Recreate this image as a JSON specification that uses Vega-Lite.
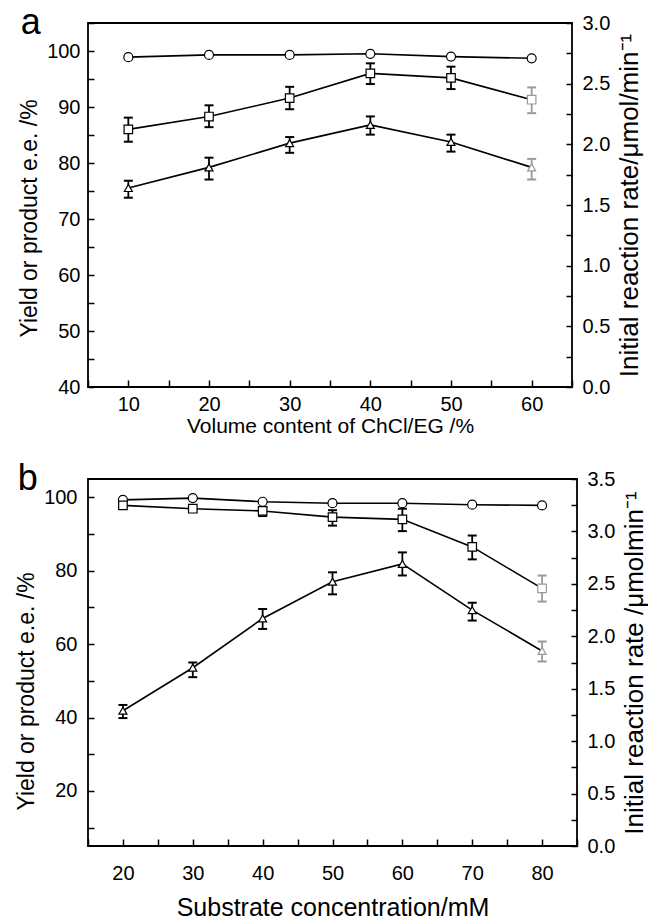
{
  "$schema": "https://vega.github.io/schema/vega-lite/v6.json",
  "padding": {"left": 14, "top": 4, "right": 3, "bottom": 0},
  "spacing": 23,
  "config": {
    "font": "Liberation Sans",
    "view": {"stroke": "black", "strokeWidth": 1.8},
    "axis": {"labelFont": "Liberation Sans", "titleFont": "Liberation Sans", "labelColor": "black", "titleColor": "black", "domain": false, "tickColor": "black", "tickWidth": 1.5, "titleFontWeight": "normal", "grid": false, "labelFontSize": 20},
    "title": {"font": "Liberation Sans", "fontWeight": "normal", "color": "black"}
  },
  "datasets": {
    "a_left": [
      {"x": 10, "s": "ee", "v": 98.9, "lo": null, "hi": null},
      {"x": 20, "s": "ee", "v": 99.3, "lo": null, "hi": null},
      {"x": 30, "s": "ee", "v": 99.3, "lo": null, "hi": null},
      {"x": 40, "s": "ee", "v": 99.5, "lo": null, "hi": null},
      {"x": 50, "s": "ee", "v": 99.0, "lo": null, "hi": null},
      {"x": 60, "s": "ee", "v": 98.7, "lo": null, "hi": null},
      {"x": 10, "s": "yield", "v": 86.0, "lo": 83.8, "hi": 88.1},
      {"x": 20, "s": "yield", "v": 88.3, "lo": 86.4, "hi": 90.3},
      {"x": 30, "s": "yield", "v": 91.6, "lo": 89.6, "hi": 93.6},
      {"x": 40, "s": "yield", "v": 96.0, "lo": 94.1, "hi": 97.8},
      {"x": 50, "s": "yield", "v": 95.2, "lo": 93.2, "hi": 97.2},
      {"x": 60, "s": "yield", "v": 91.3, "lo": 88.9, "hi": 93.5}
    ],
    "a_right": [
      {"x": 10, "s": "rate", "v": 1.64, "lo": 1.56, "hi": 1.70},
      {"x": 20, "s": "rate", "v": 1.81, "lo": 1.71, "hi": 1.89},
      {"x": 30, "s": "rate", "v": 2.01, "lo": 1.93, "hi": 2.06},
      {"x": 40, "s": "rate", "v": 2.16, "lo": 2.08, "hi": 2.23},
      {"x": 50, "s": "rate", "v": 2.02, "lo": 1.94, "hi": 2.08},
      {"x": 60, "s": "rate", "v": 1.81, "lo": 1.71, "hi": 1.88}
    ],
    "b_left": [
      {"x": 20, "s": "ee", "v": 99.3, "lo": null, "hi": null},
      {"x": 30, "s": "ee", "v": 99.8, "lo": null, "hi": null},
      {"x": 40, "s": "ee", "v": 98.8, "lo": null, "hi": null},
      {"x": 50, "s": "ee", "v": 98.4, "lo": null, "hi": null},
      {"x": 60, "s": "ee", "v": 98.4, "lo": null, "hi": null},
      {"x": 70, "s": "ee", "v": 98.0, "lo": null, "hi": null},
      {"x": 80, "s": "ee", "v": 97.8, "lo": null, "hi": null},
      {"x": 20, "s": "yield", "v": 97.8, "lo": 97.3, "hi": 98.3},
      {"x": 30, "s": "yield", "v": 96.9, "lo": 96.1, "hi": 97.7},
      {"x": 40, "s": "yield", "v": 96.3, "lo": 94.9, "hi": 97.3},
      {"x": 50, "s": "yield", "v": 94.6, "lo": 92.3, "hi": 96.5},
      {"x": 60, "s": "yield", "v": 94.0, "lo": 90.8, "hi": 96.9},
      {"x": 70, "s": "yield", "v": 86.5, "lo": 83.1, "hi": 89.6},
      {"x": 80, "s": "yield", "v": 75.2, "lo": 71.6, "hi": 78.7}
    ],
    "b_right": [
      {"x": 20, "s": "rate", "v": 1.29, "lo": 1.22, "hi": 1.345},
      {"x": 30, "s": "rate", "v": 1.70, "lo": 1.61, "hi": 1.75},
      {"x": 40, "s": "rate", "v": 2.17, "lo": 2.07, "hi": 2.26},
      {"x": 50, "s": "rate", "v": 2.52, "lo": 2.40, "hi": 2.61},
      {"x": 60, "s": "rate", "v": 2.69, "lo": 2.58, "hi": 2.80},
      {"x": 70, "s": "rate", "v": 2.25, "lo": 2.15, "hi": 2.32},
      {"x": 80, "s": "rate", "v": 1.86, "lo": 1.76, "hi": 1.95}
    ]
  },
  "vconcat": [
    {
      "width": 484,
      "height": 364,
      "title": {"text": "a", "anchor": "start", "frame": "bounds", "fontSize": 36, "offset": -57, "baseline": "alphabetic", "dx": 2},
      "encoding": {
        "x": {"field": "x", "type": "quantitative", "scale": {"domain": [5, 65], "nice": false, "zero": false},
          "axis": {"values": [5, 10, 15, 20, 25, 30, 35, 40, 45, 50, 55, 60, 65], "labelExpr": "datum.value % 10 === 0 ? datum.label : ''",
            "tickSize": -7, "labelPadding": 14, "title": "Volume content of ChCl/EG /%", "titleFontSize": 21, "titlePadding": 1}}
      },
      "layer": [
        {"data": {"name": "a_left"}, "transform": [{"filter": "datum.lo != null"}], "mark": {"type": "rule", "strokeWidth": 1.8},
          "encoding": {"y": {"field": "lo", "type": "quantitative", "scale": {"domain": [40, 105], "nice": false, "zero": false}, "axis": null}, "y2": {"field": "hi"},
            "color": {"condition": {"test": "datum.x === 60", "value": "#9a9a9a"}, "value": "black"}}},
        {"data": {"name": "a_left"}, "transform": [{"filter": "datum.lo != null"}], "mark": {"type": "tick", "orient": "horizontal", "size": 9, "thickness": 2, "opacity": 1},
          "encoding": {"y": {"field": "lo", "type": "quantitative", "scale": {"domain": [40, 105], "nice": false, "zero": false}, "axis": null},
            "color": {"condition": {"test": "datum.x === 60", "value": "#9a9a9a"}, "value": "black"}}},
        {"data": {"name": "a_left"}, "transform": [{"filter": "datum.lo != null"}], "mark": {"type": "tick", "orient": "horizontal", "size": 9, "thickness": 2, "opacity": 1},
          "encoding": {"y": {"field": "hi", "type": "quantitative", "scale": {"domain": [40, 105], "nice": false, "zero": false}, "axis": null},
            "color": {"condition": {"test": "datum.x === 60", "value": "#9a9a9a"}, "value": "black"}}},
        {"data": {"name": "a_left"}, "mark": {"type": "line", "color": "black", "strokeWidth": 1.6},
          "encoding": {"detail": {"field": "s"},
            "y": {"field": "v", "type": "quantitative", "scale": {"domain": [40, 105], "nice": false, "zero": false},
              "axis": {"orient": "left", "values": [40, 45, 50, 55, 60, 65, 70, 75, 80, 85, 90, 95, 100, 105], "labelExpr": "datum.value % 10 === 0 ? datum.label : ''",
                "tickSize": -6, "labelPadding": 14, "title": "Yield or product e.e. /%", "titleFontSize": 23, "titlePadding": 5, "titleY": 195}}}},
        {"data": {"name": "a_left"}, "mark": {"type": "point", "fill": "white", "filled": false, "strokeWidth": 1.2, "opacity": 1},
          "encoding": {"y": {"field": "v", "type": "quantitative", "scale": {"domain": [40, 105], "nice": false, "zero": false}, "axis": null},
            "shape": {"field": "s", "type": "nominal", "scale": {"domain": ["ee", "yield", "rate"], "range": ["circle", "square", "triangle-up"]}, "legend": null},
            "size": {"field": "s", "type": "nominal", "scale": {"domain": ["ee", "yield", "rate"], "range": [81, 64, 130]}, "legend": null},
            "stroke": {"condition": {"test": "datum.x === 60 && datum.s === 'yield'", "value": "#9a9a9a"}, "value": "black"}}},
        {"data": {"name": "a_right"}, "mark": {"type": "rule", "strokeWidth": 1.8},
          "encoding": {"y": {"field": "lo", "type": "quantitative", "scale": {"domain": [0, 3], "nice": false, "zero": false}, "axis": null}, "y2": {"field": "hi"},
            "color": {"condition": {"test": "datum.x === 60", "value": "#9a9a9a"}, "value": "black"}}},
        {"data": {"name": "a_right"}, "mark": {"type": "tick", "orient": "horizontal", "size": 9, "thickness": 2, "opacity": 1},
          "encoding": {"y": {"field": "lo", "type": "quantitative", "scale": {"domain": [0, 3], "nice": false, "zero": false}, "axis": null},
            "color": {"condition": {"test": "datum.x === 60", "value": "#9a9a9a"}, "value": "black"}}},
        {"data": {"name": "a_right"}, "mark": {"type": "tick", "orient": "horizontal", "size": 9, "thickness": 2, "opacity": 1},
          "encoding": {"y": {"field": "hi", "type": "quantitative", "scale": {"domain": [0, 3], "nice": false, "zero": false}, "axis": null},
            "color": {"condition": {"test": "datum.x === 60", "value": "#9a9a9a"}, "value": "black"}}},
        {"data": {"name": "a_right"}, "mark": {"type": "line", "color": "black", "strokeWidth": 1.6},
          "encoding": {
            "y": {"field": "v", "type": "quantitative", "scale": {"domain": [0, 3], "nice": false, "zero": false},
              "axis": {"orient": "right", "values": [0, 0.25, 0.5, 0.75, 1, 1.25, 1.5, 1.75, 2, 2.25, 2.5, 2.75, 3], "format": ".1f", "labelExpr": "(datum.value * 4) % 2 === 0 ? datum.label : ''",
                "tickSize": -6, "labelPadding": 16, "title": "Initial reaction rate/μmol/min⁻¹", "titleFontSize": 26, "titleAngle": 270, "titleBaseline": "top", "titlePadding": 7}}}},
        {"data": {"name": "a_right"}, "mark": {"type": "point", "fill": "white", "filled": false, "strokeWidth": 1.2, "opacity": 1},
          "encoding": {"y": {"field": "v", "type": "quantitative", "scale": {"domain": [0, 3], "nice": false, "zero": false}, "axis": null},
            "shape": {"field": "s", "type": "nominal", "scale": {"domain": ["ee", "yield", "rate"], "range": ["circle", "square", "triangle-up"]}, "legend": null},
            "size": {"field": "s", "type": "nominal", "scale": {"domain": ["ee", "yield", "rate"], "range": [81, 64, 130]}, "legend": null},
            "stroke": {"condition": {"test": "datum.x === 60", "value": "#9a9a9a"}, "value": "black"}}}
      ],
      "resolve": {"scale": {"y": "independent"}, "axis": {"y": "independent"}}
    },
    {
      "width": 489,
      "height": 367,
      "title": {"text": "b", "anchor": "start", "frame": "bounds", "fontSize": 36, "offset": -57, "baseline": "alphabetic", "dx": 2},
      "encoding": {
        "x": {"field": "x", "type": "quantitative", "scale": {"domain": [15, 85], "nice": false, "zero": false},
          "axis": {"values": [15, 20, 25, 30, 35, 40, 45, 50, 55, 60, 65, 70, 75, 80, 85], "labelExpr": "datum.value % 10 === 0 ? datum.label : ''",
            "tickSize": -7, "labelPadding": 24, "title": "Substrate concentration/mM", "titleFontSize": 25, "titlePadding": 12}}
      },
      "layer": [
        {"data": {"name": "b_left"}, "transform": [{"filter": "datum.lo != null"}], "mark": {"type": "rule", "strokeWidth": 1.8},
          "encoding": {"y": {"field": "lo", "type": "quantitative", "scale": {"domain": [5, 105], "nice": false, "zero": false}, "axis": null}, "y2": {"field": "hi"},
            "color": {"condition": {"test": "datum.x === 80", "value": "#9a9a9a"}, "value": "black"}}},
        {"data": {"name": "b_left"}, "transform": [{"filter": "datum.lo != null"}], "mark": {"type": "tick", "orient": "horizontal", "size": 9, "thickness": 2, "opacity": 1},
          "encoding": {"y": {"field": "lo", "type": "quantitative", "scale": {"domain": [5, 105], "nice": false, "zero": false}, "axis": null},
            "color": {"condition": {"test": "datum.x === 80", "value": "#9a9a9a"}, "value": "black"}}},
        {"data": {"name": "b_left"}, "transform": [{"filter": "datum.lo != null"}], "mark": {"type": "tick", "orient": "horizontal", "size": 9, "thickness": 2, "opacity": 1},
          "encoding": {"y": {"field": "hi", "type": "quantitative", "scale": {"domain": [5, 105], "nice": false, "zero": false}, "axis": null},
            "color": {"condition": {"test": "datum.x === 80", "value": "#9a9a9a"}, "value": "black"}}},
        {"data": {"name": "b_left"}, "mark": {"type": "line", "color": "black", "strokeWidth": 1.6},
          "encoding": {"detail": {"field": "s"},
            "y": {"field": "v", "type": "quantitative", "scale": {"domain": [5, 105], "nice": false, "zero": false},
              "axis": {"orient": "left", "values": [10, 20, 30, 40, 50, 60, 70, 80, 90, 100], "labelExpr": "datum.value % 20 === 0 ? datum.label : ''",
                "tickSize": -6, "labelPadding": 17, "title": "Yield or product e.e. /%", "titleFontSize": 23, "titlePadding": 5, "titleY": 212}}}},
        {"data": {"name": "b_left"}, "mark": {"type": "point", "fill": "white", "filled": false, "strokeWidth": 1.2, "opacity": 1},
          "encoding": {"y": {"field": "v", "type": "quantitative", "scale": {"domain": [5, 105], "nice": false, "zero": false}, "axis": null},
            "shape": {"field": "s", "type": "nominal", "scale": {"domain": ["ee", "yield", "rate"], "range": ["circle", "square", "triangle-up"]}, "legend": null},
            "size": {"field": "s", "type": "nominal", "scale": {"domain": ["ee", "yield", "rate"], "range": [81, 64, 130]}, "legend": null},
            "stroke": {"condition": {"test": "datum.x === 80 && datum.s === 'yield'", "value": "#9a9a9a"}, "value": "black"}}},
        {"data": {"name": "b_right"}, "mark": {"type": "rule", "strokeWidth": 1.8},
          "encoding": {"y": {"field": "lo", "type": "quantitative", "scale": {"domain": [0, 3.5], "nice": false, "zero": false}, "axis": null}, "y2": {"field": "hi"},
            "color": {"condition": {"test": "datum.x === 80", "value": "#9a9a9a"}, "value": "black"}}},
        {"data": {"name": "b_right"}, "mark": {"type": "tick", "orient": "horizontal", "size": 9, "thickness": 2, "opacity": 1},
          "encoding": {"y": {"field": "lo", "type": "quantitative", "scale": {"domain": [0, 3.5], "nice": false, "zero": false}, "axis": null},
            "color": {"condition": {"test": "datum.x === 80", "value": "#9a9a9a"}, "value": "black"}}},
        {"data": {"name": "b_right"}, "mark": {"type": "tick", "orient": "horizontal", "size": 9, "thickness": 2, "opacity": 1},
          "encoding": {"y": {"field": "hi", "type": "quantitative", "scale": {"domain": [0, 3.5], "nice": false, "zero": false}, "axis": null},
            "color": {"condition": {"test": "datum.x === 80", "value": "#9a9a9a"}, "value": "black"}}},
        {"data": {"name": "b_right"}, "mark": {"type": "line", "color": "black", "strokeWidth": 1.6},
          "encoding": {
            "y": {"field": "v", "type": "quantitative", "scale": {"domain": [0, 3.5], "nice": false, "zero": false},
              "axis": {"orient": "right", "values": [0, 0.25, 0.5, 0.75, 1, 1.25, 1.5, 1.75, 2, 2.25, 2.5, 2.75, 3, 3.25, 3.5], "format": ".1f", "labelExpr": "(datum.value * 4) % 2 === 0 ? datum.label : ''",
                "tickSize": -6, "labelPadding": 16, "title": "Initial reaction rate /μmolmin⁻¹", "titleFontSize": 26, "titleAngle": 270, "titleBaseline": "top", "titlePadding": 7}}}},
        {"data": {"name": "b_right"}, "mark": {"type": "point", "fill": "white", "filled": false, "strokeWidth": 1.2, "opacity": 1},
          "encoding": {"y": {"field": "v", "type": "quantitative", "scale": {"domain": [0, 3.5], "nice": false, "zero": false}, "axis": null},
            "shape": {"field": "s", "type": "nominal", "scale": {"domain": ["ee", "yield", "rate"], "range": ["circle", "square", "triangle-up"]}, "legend": null},
            "size": {"field": "s", "type": "nominal", "scale": {"domain": ["ee", "yield", "rate"], "range": [81, 64, 130]}, "legend": null},
            "stroke": {"condition": {"test": "datum.x === 80", "value": "#9a9a9a"}, "value": "black"}}}
      ],
      "resolve": {"scale": {"y": "independent"}, "axis": {"y": "independent"}}
    }
  ]
}
